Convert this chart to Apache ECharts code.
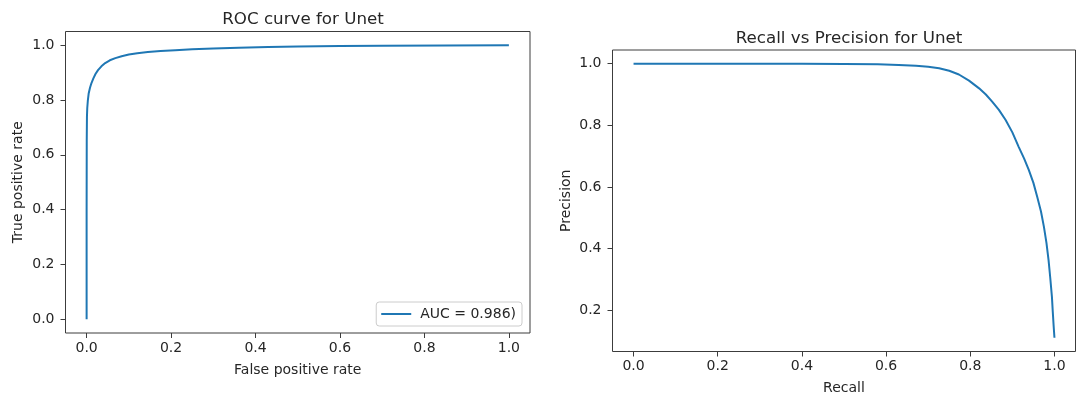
<!DOCTYPE html>
<html>
<head>
<meta charset="utf-8">
<script src="https://cdn.jsdelivr.net/npm/echarts@6/dist/echarts.min.js"></script>
<style>
  html, body { margin: 0; padding: 0; background: #fff; }
  #chart { width: 1076px; height: 396px; }
</style>
</head>
<body>
<div id="chart"></div>
<script>
// ROC curve points: [false positive rate, true positive rate]
const rocPoints = [
  [0, 0], [0, 0.4], [0.0003, 0.65], [0.0008, 0.74], [0.0015, 0.77], [0.003, 0.8],
  [0.005, 0.825], [0.008, 0.845], [0.0115, 0.862], [0.016, 0.879], [0.021, 0.895],
  [0.027, 0.909], [0.035, 0.923], [0.044, 0.935], [0.055, 0.945], [0.068, 0.953],
  [0.083, 0.96], [0.1, 0.966], [0.12, 0.971], [0.145, 0.975], [0.175, 0.979],
  [0.21, 0.982], [0.25, 0.985], [0.3, 0.988], [0.36, 0.991], [0.43, 0.993],
  [0.5, 0.995], [0.6, 0.997], [0.7, 0.998], [0.85, 0.999], [1.0, 1.0]
];
// Precision-recall points: [recall, precision]
const prPoints = [
  [0, 1.0], [0.2, 1.0], [0.4, 0.9995], [0.5, 0.999], [0.58, 0.998], [0.63, 0.996],
  [0.671, 0.993], [0.7, 0.99], [0.726, 0.985], [0.75, 0.977], [0.773, 0.965],
  [0.797, 0.945], [0.821, 0.92], [0.837, 0.9], [0.852, 0.877], [0.868, 0.85],
  [0.884, 0.817], [0.9, 0.777], [0.915, 0.73], [0.928, 0.692], [0.939, 0.655],
  [0.95, 0.613], [0.959, 0.568], [0.968, 0.52], [0.975, 0.47], [0.981, 0.418],
  [0.986, 0.362], [0.99, 0.305], [0.994, 0.243], [0.996, 0.195], [0.998, 0.15],
  [1.0, 0.11]
];
const rocLegend = 'AUC = 0.986)';
const titles = ['ROC curve for Unet', 'Recall vs Precision for Unet'];
const axisNames = {
  rocX: 'False positive rate', rocY: 'True positive rate',
  prX: 'Recall', prY: 'Precision'
};
const xTicks = [0, 0.2, 0.4, 0.6, 0.8, 1.0];
const rocYTicks = [0, 0.2, 0.4, 0.6, 0.8, 1.0];
const prYTicks = [0.2, 0.4, 0.6, 0.8, 1.0];

const FONT = 'DejaVu Sans';
const TEXT = '#262626';
const SPINE = '#3c3c3c';
const BLUE = '#1f77b4';

// matplotlib-style 5% padding around the data range
function padded(vals) {
  const lo = Math.min(...vals), hi = Math.max(...vals);
  const m = (hi - lo) * 0.05;
  return [lo - m, hi + m];
}

function valueAxis(gridIndex, range, ticks, name, gap, isY) {
  return {
    type: 'value', gridIndex,
    min: range[0], max: range[1],
    name, nameLocation: 'middle', nameGap: gap,
    nameTextStyle: { fontFamily: FONT, fontSize: 14, color: TEXT },
    axisLine: { show: false, onZero: false },
    axisTick: { show: true, inside: false, length: 5, customValues: ticks,
                lineStyle: { color: SPINE, width: 1 } },
    axisLabel: { show: true, customValues: ticks, margin: isY ? 11 : 8,
                 fontFamily: FONT, fontSize: 14, color: TEXT,
                 formatter: v => v.toFixed(1) },
    splitLine: { show: false }
  };
}

const rocX = padded(rocPoints.map(p => p[0]));
const rocY = padded(rocPoints.map(p => p[1]));
const prX = padded(prPoints.map(p => p[0]));
const prY = padded(prPoints.map(p => p[1]));

const chart = echarts.init(document.getElementById('chart'), null, { renderer: 'canvas' });
chart.setOption({
  animation: false,
  backgroundColor: '#fff',
  title: [
    { text: titles[0], left: 298, top: 6, textAlign: 'center',
      textStyle: { fontFamily: FONT, fontSize: 16.7, fontWeight: 'normal', color: TEXT } },
    { text: titles[1], left: 844, top: 25, textAlign: 'center',
      textStyle: { fontFamily: FONT, fontSize: 16.7, fontWeight: 'normal', color: TEXT } }
  ],
  grid: [
    { left: 65.5, top: 31.5, width: 464.5, height: 301.5, show: true,
      outerBoundsMode: 'none', containLabel: false,
      borderColor: SPINE, borderWidth: 1, backgroundColor: 'transparent' },
    { left: 612.5, top: 50, width: 463, height: 301.5, show: true,
      outerBoundsMode: 'none', containLabel: false,
      borderColor: SPINE, borderWidth: 1, backgroundColor: 'transparent' }
  ],
  xAxis: [
    valueAxis(0, rocX, xTicks, axisNames.rocX, 30, false),
    valueAxis(1, prX, xTicks, axisNames.prX, 30, false)
  ],
  yAxis: [
    valueAxis(0, rocY, rocYTicks, axisNames.rocY, 40, true),
    valueAxis(1, prY, prYTicks, axisNames.prY, 39, true)
  ],
  legend: {
    data: [rocLegend],
    right: 554, top: 302,
    orient: 'vertical',
    icon: 'rect', itemWidth: 30, itemHeight: 2,
    padding: [5, 6, 5, 5],
    backgroundColor: 'rgba(255,255,255,0.8)',
    borderColor: '#cccccc', borderWidth: 1, borderRadius: 3,
    textStyle: { fontFamily: FONT, fontSize: 14, color: TEXT, padding: [0, 0, 0, 4] }
  },
  series: [
    { name: rocLegend, type: 'line', xAxisIndex: 0, yAxisIndex: 0,
      data: rocPoints, symbol: 'none', smooth: false,
      itemStyle: { color: BLUE },
      lineStyle: { color: BLUE, width: 2, join: 'round' } },
    { name: 'pr', type: 'line', xAxisIndex: 1, yAxisIndex: 1,
      data: prPoints, symbol: 'none', smooth: false,
      itemStyle: { color: BLUE },
      lineStyle: { color: BLUE, width: 2, join: 'round' } }
  ]
});
</script>
</body>
</html>
